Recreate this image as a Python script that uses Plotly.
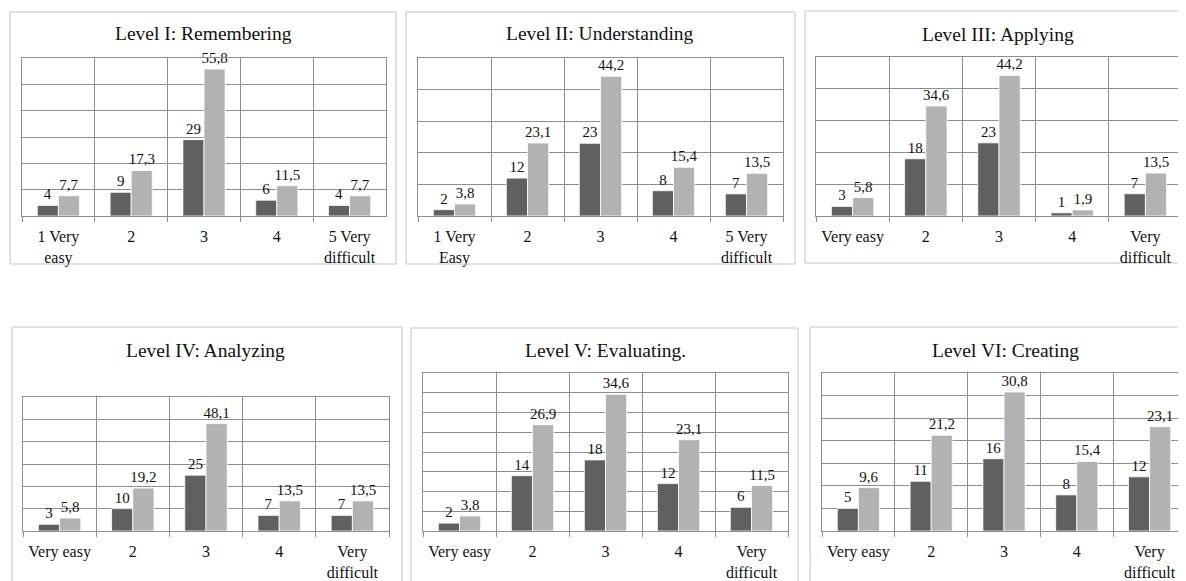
import plotly.graph_objects as go

# page has an 8px body margin; figure coordinates are given in page pixels and shifted
OFF = 8
W, H = 1186 - OFF, 581 - OFF

titles = ["Level I: Remembering", "Level II: Understanding", "Level III: Applying",
          "Level IV: Analyzing", "Level V: Evaluating.", "Level VI: Creating"]

cats_1 = ["1 Very<br>easy", "2", "3", "4", "5 Very<br>difficult"]
cats_2 = ["1 Very<br>Easy", "2", "3", "4", "5 Very<br>difficult"]
cats_3 = ["Very easy", "2", "3", "4", "Very<br>difficult"]
cats_4 = ["Very easy", "2", "3", "4", "Very<br>difficult"]
cats_5 = ["Very easy", "2", "3", "4", "Very<br>difficult"]
cats_6 = ["Very easy", "2", "3", "4", "Very<br>difficult"]

counts_1 = [4, 9, 29, 6, 4]
pct_1 = [7.7, 17.3, 55.8, 11.5, 7.7]
counts_2 = [2, 12, 23, 8, 7]
pct_2 = [3.8, 23.1, 44.2, 15.4, 13.5]
counts_3 = [3, 18, 23, 1, 7]
pct_3 = [5.8, 34.6, 44.2, 1.9, 13.5]
counts_4 = [3, 10, 25, 7, 7]
pct_4 = [5.8, 19.2, 48.1, 13.5, 13.5]
counts_5 = [2, 14, 18, 12, 6]
pct_5 = [3.8, 26.9, 34.6, 23.1, 11.5]
counts_6 = [5, 11, 16, 8, 12]
pct_6 = [9.6, 21.2, 30.8, 15.4, 23.1]

y_max = [60, 50, 50, 60, 40, 35]
y_step = [10, 10, 10, 10, 5, 5]

cats = [cats_1, cats_2, cats_3, cats_4, cats_5, cats_6]
counts = [counts_1, counts_2, counts_3, counts_4, counts_5, counts_6]
pcts = [pct_1, pct_2, pct_3, pct_4, pct_5, pct_6]

# page-pixel layout: plot area (x0, x1, y0, y1), panel border, title centre
plot_px = [(22, 386, 58, 216), (418, 783, 58, 216), (816, 1182, 57, 216),
           (23, 389, 397, 531), (423, 788, 373, 531), (822, 1187, 373, 531)]
box_px = [(10, 396, 12, 264), (406, 795, 12, 264), (805, 1195, 11, 263),
          (12, 402, 327, 600), (411, 798, 328, 600), (810, 1195, 327, 600)]
title_px = [(203, 33), (600, 33), (998, 34), (205, 351), (605, 350), (1005, 350)]

DARK = "#606060"
LIGHT = "#b2b2b2"
GRID = "#8e8e8e"
BORDER = "#c4c4c4"
FONT = "Liberation Serif, Times New Roman, serif"

def px(x):
    return (x - OFF) / W

def py(y):
    return 1 - (y - OFF) / H

def fmt(v):
    if float(v).is_integer():
        return str(int(v))
    return ("%.1f" % v).replace(".", ",")

fig = go.Figure()
shapes = []
annotations = []
layout_axes = {}

for i in range(6):
    n = "" if i == 0 else str(i + 1)
    xa, ya = "x" + n, "y" + n
    for vals, col in ((counts[i], DARK), (pcts[i], LIGHT)):
        fig.add_trace(go.Bar(x=cats[i], y=vals, xaxis=xa, yaxis=ya,
                             marker=dict(color=col, line=dict(color="white", width=0.8)),
                             text=[fmt(v) for v in vals], textposition="outside",
                             constraintext="none",
                             textfont=dict(family=FONT, size=15, color="#111"),
                             cliponaxis=False, showlegend=False))
    x0, x1, y0, y1 = plot_px[i]
    layout_axes["xaxis" + n] = dict(
        domain=[max(px(x0), 0), min(px(x1), 1.0)], anchor=ya, type="category",
        tickson="boundaries", ticks="outside", ticklen=5, tickcolor=GRID,
        ticklabelstandoff=6,
        showgrid=True, gridcolor=GRID, gridwidth=1,
        showline=True, linecolor=GRID, mirror=True,
        tickfont=dict(family=FONT, size=16, color="#111"), fixedrange=True)
    layout_axes["yaxis" + n] = dict(
        domain=[py(y1), min(py(y0), 1.0)], anchor=xa, range=[0, y_max[i]],
        dtick=y_step[i], showticklabels=False, showgrid=True, gridcolor=GRID,
        gridwidth=1, zeroline=False, showline=True, linecolor=GRID, mirror=True,
        ticks="", fixedrange=True)
    bx0, bx1, by0, by1 = box_px[i]
    shapes.append(dict(type="rect", xref="paper", yref="paper",
                       x0=px(bx0), x1=px(bx1), y0=py(by1), y1=py(by0),
                       line=dict(color=BORDER, width=1), layer="below"))
    tx, ty = title_px[i]
    annotations.append(dict(text=titles[i], x=px(tx), y=py(ty), xref="paper", yref="paper",
                            showarrow=False, xanchor="center", yanchor="middle",
                            font=dict(family=FONT, size=19.5, color="#111")))

fig.update_layout(
    width=W, height=H, margin=dict(l=0, r=0, t=0, b=0),
    paper_bgcolor="white", plot_bgcolor="white",
    barmode="group", bargap=0.42, bargroupgap=0,
    shapes=shapes, annotations=annotations,
    font=dict(family=FONT), **layout_axes)

fig.write_html("out.html")
